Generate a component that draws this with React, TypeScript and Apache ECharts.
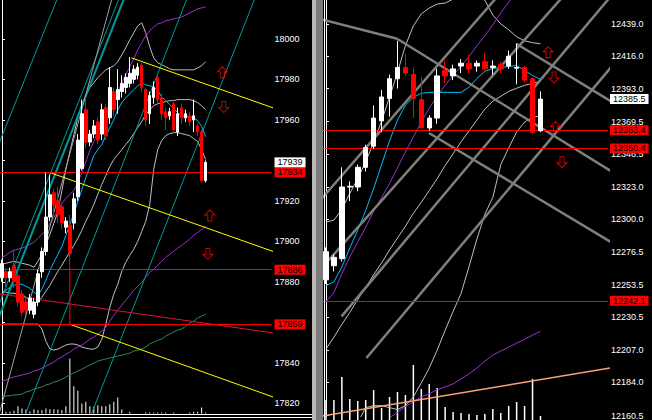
import React, { useEffect, useRef } from 'react';
import * as echarts from 'echarts';

// ---------------- LEFT PANEL (index k = candle number) ----------------
const candlesL = [
  [17882, 17889, 17880, 17891], [17885, 17882, 17876, 17887], [17882, 17885, 17880, 17887], [17888, 17880, 17877, 17896],
  [17883, 17870, 17868, 17885], [17874, 17865, 17863, 17876], [17870, 17866, 17864, 17872], [17866, 17872, 17864, 17874],
  [17864, 17870, 17862, 17872], [17870, 17884, 17868, 17886], [17885, 17895, 17882, 17897], [17895, 17912, 17893, 17934],
  [17912, 17923, 17910, 17933], [17924, 17918, 17913, 17926], [17920, 17913, 17909, 17927], [17917, 17909, 17906, 17919],
  [17907, 17910, 17904, 17912], [17908, 17894, 17888, 17913], [17909, 17921, 17906, 17924], [17922, 17950, 17920, 17953],
  [17936, 17963, 17935, 17970], [17965, 17949, 17946, 17971], [17949, 17953, 17947, 17955], [17953, 17957, 17951, 17960],
  [17959, 17950, 17948, 17961], [17953, 17965, 17950, 17968], [17966, 17952, 17950, 17968], [17961, 17976, 17958, 17986],
  [17974, 17965, 17962, 17976], [17970, 17975, 17963, 17985], [17974, 17978, 17971, 17982], [17976, 17981, 17973, 17983],
  [17978, 17983, 17976, 17991], [17980, 17985, 17978, 17987], [17982, 17986, 17980, 17988], [17987, 17976, 17974, 17988],
  [17975, 17960, 17957, 17976], [17963, 17972, 17958, 17974], [17971, 17976, 17968, 17979], [17981, 17970, 17967, 17983],
  [17971, 17963, 17960, 17973], [17964, 17961, 17955, 17966], [17962, 17964, 17960, 17966], [17968, 17955, 17953, 17970],
  [17954, 17963, 17952, 17966], [17966, 17961, 17958, 17968], [17961, 17963, 17959, 17965], [17962, 17959, 17957, 17964],
  [17960, 17962, 17954, 17970], [17957, 17954, 17952, 17958], [17954, 17930, 17929, 17955], [17930, 17939, 17929, 17940],
];
const volumeL = [3, 5, 5, 8, 22, 15, 12, 6, 13, 10, 10, 15, 13, 13, 12, 10, 22, 165, 82, 68, 30, 35, 22, 20, 25, 22, 22, 28, 35, 48, 12, 0, 5, 0, 0, 0, 4, 3, 3, 3, 3, 3, 0, 3, 0, 0, 0, 3, 5, 5, 18, 3];
const bbUpperL = [17888.7, 17889.2, 17889.7, 17890.1, 17889.7, 17889.2, 17888.7, 17888.2, 17887.2, 17890.1, 17893.6, 17898.5, 17903.4, 17908.9, 17914.8, 17925.1, 17935.5, 17944.3, 17952.7, 17961.1, 17967.5, 17971.9, 17975.9, 17978.3, 17980.8, 17982.8, 17984.7, 17985.7, 17986.7, 17988.7, 17992.1, 17995.6, 17999.5, 18003.0, 18006.4, 18007.9, 18003.0, 17996.1, 17990.6, 17988.2, 17987.2, 17986.2, 17985.2, 17984.7, 17984.7, 17984.7, 17984.7, 17984.7, 17984.7, 17985.7, 17986.7, 17988.7];
const bbMidL = [17875.4, 17874.9, 17874.4, 17874.4, 17873.9, 17873.9, 17872.4, 17870.9, 17869.5, 17869.9, 17872.4, 17875.4, 17878.3, 17881.8, 17885.2, 17888.2, 17891.6, 17894.6, 17898.0, 17901.5, 17905.4, 17909.9, 17913.8, 17918.2, 17923.2, 17928.1, 17932.5, 17936.9, 17940.4, 17942.9, 17945.3, 17947.8, 17950.2, 17953.2, 17956.2, 17959.1, 17962.6, 17965.0, 17967.0, 17968.0, 17968.5, 17969.0, 17969.5, 17969.5, 17970.0, 17970.0, 17970.0, 17970.0, 17969.5, 17968.5, 17967.0, 17965.0];
const bbLowL = [17859.1, 17859.1, 17859.1, 17859.1, 17859.1, 17859.1, 17859.1, 17859.1, 17859.1, 17859.1, 17856.7, 17850.7, 17846.8, 17846.3, 17846.8, 17847.8, 17848.8, 17849.3, 17849.3, 17848.8, 17847.8, 17847.3, 17846.8, 17846.8, 17847.8, 17851.7, 17859.1, 17867.5, 17873.9, 17878.8, 17885.2, 17889.7, 17893.1, 17896.1, 17900.0, 17904.9, 17909.9, 17918.2, 17935.5, 17945.3, 17949.8, 17952.2, 17953.2, 17953.7, 17953.7, 17953.2, 17952.7, 17952.2, 17950.7, 17949.3, 17945.3, 17940.4];
const maFastL = [17873.9, 17875.9, 17877.3, 17878.3, 17878.8, 17878.8, 17877.8, 17876.8, 17874.9, 17873.4, 17876.4, 17880.8, 17885.7, 17889.7, 17893.6, 17897.5, 17903.0, 17908.4, 17913.8, 17919.7, 17925.6, 17931.5, 17936.9, 17942.4, 17945.3, 17947.8, 17952.2, 17956.2, 17960.1, 17965.0, 17968.5, 17970.9, 17972.9, 17974.9, 17976.8, 17978.3, 17977.3, 17976.8, 17976.4, 17974.4, 17971.4, 17969.5, 17967.5, 17965.5, 17963.5, 17962.1, 17961.6, 17961.6, 17961.1, 17959.6, 17956.7, 17951.7];
const maSlowL = [17892.1, 17893.1, 17894.6, 17895.6, 17896.1, 17896.6, 17897.5, 17898.5, 17899.5, 17901.5, 17903.5, 17905.4, 17908.9, 17911.8, 17915.3, 17918.7, 17921.2, 17923.2, 17925.1, 17929.1, 17934.0, 17939.4, 17944.8, 17949.3, 17954.7, 17958.6, 17962.1, 17966.0, 17970.4, 17973.9, 17978.3, 17982.3, 17986.2, 17990.1, 17994.6, 17998.0, 18001.5, 18003.9, 18005.9, 18007.4, 18007.9, 18008.9, 18009.4, 18009.9, 18010.3, 18010.8, 18011.8, 18012.8, 18013.8, 18014.8, 18015.3, 18015.8];
const maSlow2L = [17831.0, 17831.5, 17832.5, 17833.0, 17833.5, 17834.0, 17834.5, 17835.0, 17836.0, 17836.5, 17837.4, 17838.4, 17839.4, 17840.4, 17841.9, 17842.9, 17844.3, 17845.3, 17846.8, 17847.8, 17848.8, 17850.2, 17851.7, 17852.7, 17854.2, 17855.7, 17857.6, 17860.6, 17863.5, 17866.0, 17868.5, 17870.9, 17873.4, 17875.9, 17877.8, 17879.8, 17882.3, 17884.7, 17886.2, 17888.2, 17890.1, 17892.1, 17893.6, 17895.1, 17896.6, 17898.0, 17899.5, 17901.0, 17903.0, 17904.4, 17905.9, 17907.4];
const maLongL = [17823.2, 17823.7, 17823.7, 17824.2, 17824.2, 17824.6, 17825.6, 17826.1, 17827.1, 17827.6, 17828.1, 17829.1, 17829.6, 17830.5, 17831.0, 17832.0, 17833.0, 17834.0, 17835.0, 17836.0, 17836.9, 17837.9, 17838.9, 17839.9, 17840.9, 17841.4, 17841.9, 17842.4, 17842.9, 17843.4, 17843.8, 17844.3, 17844.8, 17845.8, 17846.3, 17846.8, 17847.8, 17849.3, 17850.2, 17851.2, 17851.7, 17853.2, 17854.2, 17855.2, 17856.2, 17856.7, 17858.1, 17859.6, 17860.6, 17862.1, 17863.1, 17864.0];
const tickMarksL = [17820, 17840, 17860, 17880, 17900, 17920, 17940, 17960, 17980, 18000];
const tickLabelsL = [17820, 17840, 17880, 17900, 17920, 17960, 17980, 18000];
const levelsL = [17934, 17886, 17859];
const lastPriceL = 17939;
// trend lines, [candle index, price]
const tealThinL1 = [[-2.58, 17939.4], [14.93, 18025.1]];
const tealThickL = [[-2.58, 17853.4], [31.6, 18025.1]];
const tealThinL2 = [[-2.58, 17859.6], [30.35, 18025.1]];
const tealThinL3 = [[4.93, 17809.9], [47.35, 18025.1]];
const tealThinL4 = [[21.43, 17809.9], [64.35, 18025.1]];
const grayLineL = [[-1.33, 17810.3], [28.25, 18025.1]];
const yellowL1 = [[32.43, 17990.6], [69.93, 17964.5]];
const yellowL2 = [[11.93, 17934.0], [69.93, 17893.6]];
const yellowL3 = [[16.93, 17859.1], [69.93, 17821.7]];
const crimsonL = [[-2.58, 17874.6], [69.93, 17854.2]];
const redVertL = [[17, 17887.7], [17, 17859.1]];
const arrowsUpL = [[55.18, 17983.5], [52.05, 17912.8]];
const arrowsDownL = [[55.55, 17966.3], [51.55, 17893.8]];

// ---------------- RIGHT PANEL ----------------
const candlesR = [
  [12257, 12277, 12254, 12280], [12267, 12273, 12263, 12275], [12272, 12323, 12270, 12337], [12323, 12323.5, 12313, 12327],
  [12323, 12337, 12320, 12339], [12337, 12351, 12334, 12353], [12352, 12372, 12350, 12381], [12370, 12387, 12362, 12392],
  [12386, 12400, 12373, 12403], [12400, 12408, 12393, 12427], [12408, 12404, 12402, 12418], [12403, 12386, 12372, 12408],
  [12385, 12365, 12365, 12401], [12365, 12372, 12363, 12374], [12372, 12402, 12368, 12407], [12406, 12402, 12397, 12413],
  [12402, 12407, 12399, 12410], [12409, 12411, 12404, 12414], [12411, 12407, 12404, 12417], [12409, 12411, 12405, 12413],
  [12412, 12407, 12406, 12418], [12408, 12409, 12403, 12413], [12410, 12407, 12404, 12412], [12409, 12416, 12407, 12420],
  [12407.5, 12408, 12396, 12425], [12408, 12399, 12397, 12409], [12400, 12362, 12361, 12401], [12363, 12385.5, 12362, 12391],
];
const volumeR = [20, 20, 43, 21, 19, 20, 30, 12, 23, 28, 25, 55, 31, 36, 32, 13, 8, 7, 6, 5, 6, 11, 7, 14, 18, 14, 41, 4];
const maFastR = [12252.8, 12255.6, 12266.2, 12279.6, 12292.3, 12306.4, 12321.9, 12338.9, 12355.8, 12370.6, 12381.2, 12386.8, 12389.6, 12390.3, 12390.3, 12390.3, 12390.3, 12390.3, 12393.9, 12400.2, 12405.2, 12407.3, 12408.0, 12408.7, 12409.4, 12405.9, 12402.3, 12399.5];
const maSlowR = [12241.5, 12247.9, 12261.3, 12273.3, 12283.9, 12294.4, 12305.7, 12315.6, 12325.5, 12336.7, 12348.0, 12358.6, 12369.2, 12379.1, 12387.5, 12395.3, 12402.3, 12408.7, 12415.7, 12423.5, 12430.5, 12438.3, 12446.8, 12454.5, 12462.3, 12470.0, 12477.8, 12485.5];
const maSlow2R = [null, null, null, null, null, null, null, 12155.4, 12159.0, 12162.6, 12166.8, 12170.3, 12173.8, 12176.0, 12178.8, 12180.9, 12183.0, 12186.5, 12190.1, 12194.3, 12199.2, 12203.5, 12206.3, 12209.1, 12211.9, 12214.7, 12217.6, 12220.4];
const bbUpperR = [12298.0, 12299.4, 12307.1, 12318.4, 12329.0, 12341.0, 12354.4, 12369.9, 12386.8, 12404.4, 12423.5, 12437.6, 12446.1, 12450.3, 12453.1, 12453.8, 12456.6, 12458.7, 12459.5, 12458.7, 12455.9, 12445.3, 12439.0, 12434.8, 12429.8, 12427.0, 12425.6, 12424.9];
const bbMidR = [12207.7, 12216.2, 12225.3, 12233.8, 12243.0, 12251.4, 12260.6, 12269.0, 12278.2, 12286.7, 12295.1, 12304.3, 12312.1, 12320.5, 12329.0, 12338.2, 12346.6, 12355.1, 12362.8, 12370.6, 12378.4, 12384.0, 12387.5, 12391.0, 12393.2, 12395.3, 12396.7, 12398.1];
const bbLowR = [null, null, null, null, 12155.5, 12166.1, 12167.5, 12167.5, 12166.1, 12164.7, 12167.5, 12173.8, 12183.7, 12194.3, 12207.0, 12221.1, 12234.5, 12247.2, 12266.2, 12286.0, 12303.6, 12315.6, 12338.9, 12350.8, 12362.1, 12369.2, 12372.7, 12373.4];
const ticksR = [12160.5, 12184.0, 12207.0, 12230.5, 12253.5, 12276.5, 12300.0, 12323.0, 12346.5, 12369.5, 12393.0, 12416.0, 12439.0];
const levelsR = [12363.4, 12350.4, 12242.1];
const lastPriceR = 12385.5;
const channelR1 = [[-2.04, 12444.4], [8.96, 12428.4]];
const channelR2 = [[8.96, 12428.4], [36.71, 12331.4]];
const channelR3 = [[23.96, 12424.9], [36.71, 12381.0]];
const channelR4 = [[12.96, 12361.4], [36.71, 12281.0]];
const riseR1 = [[-2.04, 12304.9], [22.39, 12463.7]];
const riseR2 = [[-2.04, 12255.8], [30.66, 12463.7]];
const riseR3 = [[1.96, 12231.0], [36.61, 12463.7]];
const riseR4 = [[5.09, 12201.4], [36.71, 12413.7]];
const salmonR = [[-2.04, 12158.6], [36.71, 12195.2]];
const arrowsUpR = [[27.96, 12418.9], [28.9, 12365.7]];
const arrowsDownR = [[28.71, 12400.9], [29.71, 12340.6]];

const FONT = 'Liberation Sans, Arial, sans-serif';
const UP_ARROW = 'path://M5,0 L10,5 L7,5 L7,11 L3,11 L3,5 L0,5 Z';
const DOWN_ARROW = 'path://M3,0 L7,0 L7,6 L10,6 L5,11 L0,6 L3,6 Z';

function cats(n: number) {
  return Array.from({ length: n }, (_, i) => String(i));
}

function maLine(data: any[], color: string, xAxisIndex: number, yAxisIndex: number, width = 1) {
  return {
    type: 'line', data, xAxisIndex, yAxisIndex, symbol: 'none', showSymbol: false, silent: true,
    clip: true, connectNulls: false, lineStyle: { color, width }, z: 3,
  };
}

function segLine(data: number[][], color: string, xAxisIndex: number, yAxisIndex: number, width = 1) {
  return {
    type: 'line', data, xAxisIndex, yAxisIndex, symbol: 'none', showSymbol: false, silent: true,
    clip: true, lineStyle: { color, width }, z: 4,
  };
}

function arrows(data: number[][], symbol: string, xAxisIndex: number, yAxisIndex: number) {
  return {
    type: 'scatter', data, xAxisIndex, yAxisIndex, symbol, symbolSize: [10, 11], silent: true, z: 6,
    itemStyle: { color: 'rgba(0,0,0,0)', borderColor: '#ff0000', borderWidth: 1 },
  };
}

function levelMarks(levels: number[], last: number, fmt: (v: number) => string, distance: number) {
  const lab = (v: number, bg: string) => ({
    show: true, position: 'end', formatter: fmt(v), color: '#000', backgroundColor: bg,
    padding: [1, 3, 0, 3], fontSize: 9, fontFamily: FONT, distance,
  });
  return {
    silent: true, symbol: ['none', 'none'], animation: false,
    data: [
      ...levels.map((v) => ({ yAxis: v, lineStyle: { color: '#ff0000', width: 1, type: 'solid' }, label: lab(v, '#ff0000') })),
      { yAxis: last, lineStyle: { color: 'rgba(0,0,0,0)', width: 1, type: 'solid' }, label: lab(last, '#ffffff') },
    ],
  };
}

function priceAxis(gridIndex: number, min: number, max: number, marks: number[], labels: number[], fmt: (v: number) => string) {
  return {
    type: 'value', gridIndex, position: 'right', min, max,
    axisLine: { show: true, lineStyle: { color: '#ffffff', width: 1 } },
    axisTick: { show: true, length: 3, lineStyle: { color: '#ffffff' }, customValues: marks },
    axisLabel: { show: true, color: '#ffffff', fontSize: 9, fontFamily: FONT, margin: 3, customValues: labels, formatter: fmt },
    splitLine: { show: false },
  };
}

export default function App() {
  const ref = useRef<HTMLDivElement>(null);
  useEffect(() => {
    if (!ref.current) return;
    const chart = echarts.init(ref.current, null, { renderer: 'svg' });
    const fmtL = (v: number) => String(Math.round(v));
    const fmtR = (v: number) => v.toFixed(1);
    const candleStyle = { color: '#ffffff', color0: '#ff0000', borderColor: '#ffffff', borderColor0: '#ff0000', borderWidth: 1 };
    const gray = '#c0c0c0';
    const teal = '#009a9a';
    const chGray = '#7f7f7f';
    const option: any = {
      animation: false,
      backgroundColor: '#000000',
      textStyle: { fontFamily: FONT },
      grid: [
        { left: -0.5, top: 0, width: 272, height: 414 },
        { left: -0.5, top: 343.5, width: 272, height: 70 },
        { left: 322, top: 0, width: 286, height: 420 },
        { left: 322, top: 340, width: 286, height: 80 },
      ],
      xAxis: [
        { type: 'category', gridIndex: 0, data: cats(68), show: false },
        { type: 'value', gridIndex: 0, min: -0.5, max: 67.5, show: false },
        { type: 'category', gridIndex: 1, data: cats(68), show: false },
        { type: 'category', gridIndex: 2, data: cats(36), show: false },
        { type: 'value', gridIndex: 2, min: -0.5, max: 35.5, show: false },
        { type: 'category', gridIndex: 3, data: cats(36), show: false },
      ],
      yAxis: [
        priceAxis(0, 17814.74, 18019.185, tickMarksL, tickLabelsL, fmtL),
        { type: 'value', gridIndex: 1, min: 0, max: 210, show: false },
        priceAxis(2, 12159.79, 12455.98, ticksR, ticksR, fmtR),
        { type: 'value', gridIndex: 3, min: 0, max: 80, show: false },
      ],
      graphic: [
        { type: 'rect', z: 100, shape: { x: 312, y: 0, width: 4, height: 420 }, style: { fill: '#b8b8b8' } },
        { type: 'rect', z: 100, shape: { x: 316, y: 0, width: 7, height: 420 }, style: { fill: '#7a7a7a' } },
        { type: 'line', z: 100, shape: { x1: 324.5, y1: 0, x2: 324.5, y2: 420 }, style: { stroke: '#ffffff', lineWidth: 1 } },
        { type: 'line', z: 100, shape: { x1: 0, y1: 414.5, x2: 312, y2: 414.5 }, style: { stroke: '#ffffff', lineWidth: 1 } },
        { type: 'line', z: 100, shape: { x1: 0, y1: 417.5, x2: 312, y2: 417.5 }, style: { stroke: '#ffffff', lineWidth: 1 } },
      ],
      series: [
        { type: 'bar', xAxisIndex: 2, yAxisIndex: 1, data: volumeL, barWidth: 1, itemStyle: { color: '#ffffff' }, silent: true, z: 1 },
        maLine(bbUpperL, gray, 0, 0), maLine(bbMidL, gray, 0, 0), maLine(bbLowL, gray, 0, 0),
        maLine(maLongL, '#2e8b57', 0, 0), maLine(maSlow2L, '#9932cc', 0, 0),
        segLine(tealThinL1, teal, 1, 0), segLine(tealThickL, teal, 1, 0, 2), segLine(tealThinL2, teal, 1, 0),
        segLine(tealThinL3, teal, 1, 0), segLine(tealThinL4, teal, 1, 0), segLine(grayLineL, '#a0a0a0', 1, 0),
        segLine(yellowL1, '#ffff00', 1, 0), segLine(yellowL2, '#ffff00', 1, 0), segLine(yellowL3, '#ffff00', 1, 0),
        segLine(crimsonL, '#dc143c', 1, 0), segLine(redVertL, '#ff0000', 1, 0),
        {
          type: 'candlestick', xAxisIndex: 0, yAxisIndex: 0, data: candlesL, barWidth: 3, itemStyle: candleStyle,
          silent: true, z: 5, markLine: levelMarks(levelsL, lastPriceL, fmtL, 3),
        },
        maLine(maSlowL, '#9932cc', 0, 0), maLine(maFastL, '#00bfff', 0, 0),
        arrows(arrowsUpL, UP_ARROW, 1, 0), arrows(arrowsDownL, DOWN_ARROW, 1, 0),

        { type: 'bar', xAxisIndex: 5, yAxisIndex: 3, data: volumeR, barWidth: 1.5, itemStyle: { color: '#ffffff' }, silent: true, z: 1 },
        maLine(bbUpperR, gray, 3, 2), maLine(bbMidR, gray, 3, 2), maLine(bbLowR, gray, 3, 2),
        maLine(maSlow2R, '#9932cc', 3, 2),
        segLine(salmonR, '#ffa07a', 4, 2, 1.5),
        segLine(channelR1, chGray, 4, 2, 2.5), segLine(channelR2, chGray, 4, 2, 2.5),
        segLine(channelR3, chGray, 4, 2, 2.5), segLine(channelR4, chGray, 4, 2, 2.5),
        segLine(riseR1, chGray, 4, 2, 2.5), segLine(riseR2, chGray, 4, 2, 2.5),
        segLine(riseR3, chGray, 4, 2, 2.5), segLine(riseR4, chGray, 4, 2, 2.5),
        {
          type: 'candlestick', xAxisIndex: 3, yAxisIndex: 2, data: candlesR, barWidth: 5, itemStyle: candleStyle,
          silent: true, z: 5, markLine: levelMarks(levelsR, lastPriceR, fmtR, 2),
        },
        maLine(maSlowR, '#9932cc', 3, 2), maLine(maFastR, '#00bfff', 3, 2),
        arrows(arrowsUpR, UP_ARROW, 4, 2), arrows(arrowsDownR, DOWN_ARROW, 4, 2),
      ],
    };
    chart.setOption(option);
    return () => chart.dispose();
  }, []);
  return (
    <div
      ref={ref}
      style={{ position: 'absolute', left: 0, top: 0, width: 652, height: 420, background: '#000' }}
    />
  );
}
